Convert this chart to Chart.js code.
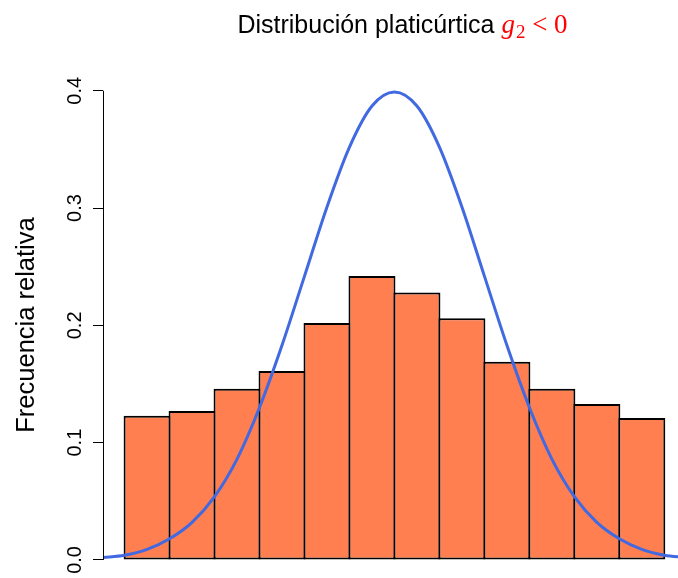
<!DOCTYPE html>
<html>
<head>
<meta charset="utf-8">
<script src="https://cdn.jsdelivr.net/npm/chart.js@4.4.1/dist/chart.umd.min.js"></script>
<style>
  html, body { margin: 0; padding: 0; background: #fff; }
  canvas { display: block; }
</style>
</head>
<body>
<canvas id="grafico" width="678" height="578"></canvas>
<script>
// Histograma: limites das classes e frequência relativa de cada classe
const limites = [-3, -2.5, -2, -1.5, -1, -0.5, 0, 0.5, 1, 1.5, 2, 2.5, 3];
const frecuencias = [0.123, 0.127, 0.146, 0.161, 0.202, 0.242, 0.228, 0.206, 0.169, 0.146, 0.133, 0.121];

// Curva normal sobreposta
const curvaX = [-3.25, -3, -2.75, -2.5, -2.25, -2, -1.75, -1.5, -1.25, -1, -0.75, -0.5, -0.25, 0,
                0.25, 0.5, 0.75, 1, 1.25, 1.5, 1.75, 2, 2.25, 2.5, 2.75, 3, 3.25];
const curvaY = [0.002, 0.004, 0.009, 0.018, 0.032, 0.054, 0.086, 0.130, 0.183, 0.242, 0.301, 0.352, 0.387, 0.399,
                0.387, 0.352, 0.301, 0.242, 0.183, 0.130, 0.086, 0.054, 0.032, 0.018, 0.009, 0.004, 0.002];

const ticksY = [0, 0.1, 0.2, 0.3, 0.4];

const tituloTexto = 'Distribución platicúrtica ';
const tituloExpr = ['g', '2', ' < 0'];

const sans = '"Liberation Sans", Arial, Helvetica, sans-serif';
const serif = '"Liberation Serif", "Times New Roman", serif';

// Pontos médios das classes
const centros = frecuencias.map((f, i) => ({ x: (limites[i] + limites[i + 1]) / 2, y: f }));
const curva = curvaX.map((x, i) => ({ x: x, y: curvaY[i] }));

// Título e linha do eixo (estilo R)
const extras = {
    id: 'extras',
    afterDraw(chart) {
        const ctx = chart.ctx;
        const y = chart.scales.y;
        const left = chart.chartArea.left;

        ctx.save();
        ctx.strokeStyle = '#000';
        ctx.lineWidth = 1;
        ctx.beginPath();
        ctx.moveTo(left + 0.5, y.getPixelForValue(ticksY[0]));
        ctx.lineTo(left + 0.5, y.getPixelForValue(ticksY[ticksY.length - 1]));
        ctx.stroke();

        // título
        const base = 33;
        ctx.textBaseline = 'alphabetic';
        ctx.textAlign = 'left';
        ctx.font = '25px ' + sans;
        const w1 = ctx.measureText(tituloTexto).width;
        ctx.font = 'italic 27px ' + serif;
        const w2 = ctx.measureText(tituloExpr[0]).width;
        ctx.font = '19px ' + serif;
        const w3 = ctx.measureText(tituloExpr[1]).width;
        ctx.font = '27px ' + serif;
        const w4 = ctx.measureText(tituloExpr[2]).width;
        let x = 402 - (w1 + w2 + w3 + w4) / 2;

        ctx.fillStyle = '#000';
        ctx.font = '25px ' + sans;
        ctx.fillText(tituloTexto, x, base);
        x += w1;
        ctx.fillStyle = '#ff0000';
        ctx.font = 'italic 27px ' + serif;
        ctx.fillText(tituloExpr[0], x, base);
        x += w2 + 1;
        ctx.font = '19px ' + serif;
        ctx.fillText(tituloExpr[1], x, base + 5);
        x += w3;
        ctx.font = '27px ' + serif;
        ctx.fillText(tituloExpr[2], x, base);
        ctx.restore();
    }
};

new Chart(document.getElementById('grafico').getContext('2d'), {
    type: 'bar',
    data: {
        datasets: [
            {
                type: 'line',
                data: curva,
                borderColor: '#4169E1',
                borderWidth: 3,
                pointRadius: 0,
                fill: false,
                cubicInterpolationMode: 'monotone',
                order: 0
            },
            {
                type: 'bar',
                data: centros,
                backgroundColor: '#FF7F50',
                borderColor: '#000',
                borderWidth: 2,
                borderSkipped: false,
                barPercentage: 47 / 45,   // bordas vizinhas sobrepostas, como no R
                categoryPercentage: 1,
                order: 1
            }
        ]
    },
    options: {
        responsive: false,
        animation: false,
        devicePixelRatio: 1,
        layout: { padding: { top: 72, left: 0, right: 0, bottom: 0 } },
        plugins: {
            legend: { display: false },
            title: { display: false },
            tooltip: { enabled: false }
        },
        scales: {
            x: {
                type: 'linear',
                min: -3.24,
                max: 3.152,
                offset: false,
                display: false,
                afterBuildTicks: s => { s.ticks = limites.map(v => ({ value: v })); }
            },
            y: {
                position: 'left',
                min: -0.0154,
                max: 0.416,
                afterBuildTicks: s => { s.ticks = ticksY.map(v => ({ value: v })); },
                afterFit: s => { s.width = 103; s.paddingTop = 0; s.paddingBottom = 0; },
                border: { display: false },
                grid: {
                    drawOnChartArea: false,
                    drawTicks: true,
                    tickLength: 10,
                    color: '#000',
                    lineWidth: 1
                },
                ticks: {
                    minRotation: 90,
                    maxRotation: 90,
                    crossAlign: 'center',
                    padding: 4,
                    color: '#000',
                    font: { family: sans, size: 20 },
                    callback: v => v.toFixed(1)
                },
                title: {
                    display: true,
                    text: 'Frecuencia relativa',
                    color: '#000',
                    font: { family: sans, size: 25.5 },
                    padding: { top: 12, bottom: 0 }
                }
            }
        }
    },
    plugins: [extras]
});
</script>
</body>
</html>
